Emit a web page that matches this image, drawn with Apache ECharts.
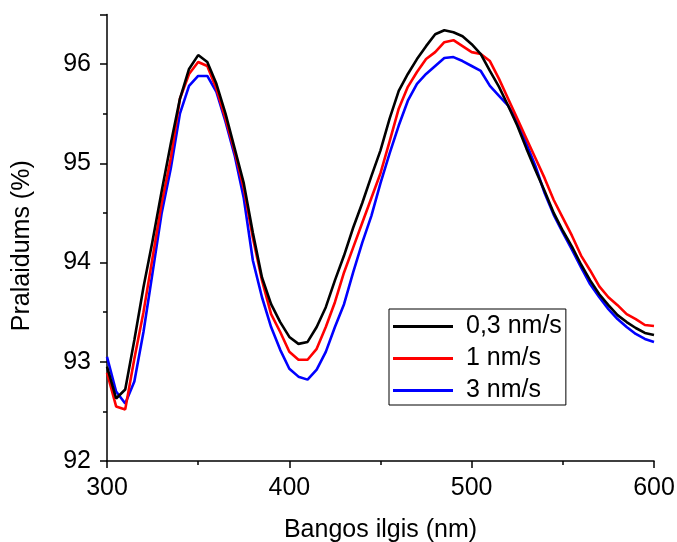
<!DOCTYPE html>
<html>
<head>
<meta charset="utf-8">
<script src="https://cdn.jsdelivr.net/npm/echarts@6/dist/echarts.min.js"></script>
<style>html,body{margin:0;padding:0;background:#fff}#c{width:677px;height:542px}</style>
</head>
<body>
<div id="c"></div>
<script>
const wavelength = [300,305,310,315,320,325,330,335,340,345,350,355,360,365,370,375,380,385,390,395,400,405,410,415,420,425,430,435,440,445,450,455,460,465,470,475,480,485,490,495,500,505,510,515,520,525,530,535,540,545,550,555,560,565,570,575,580,585,590,595,600];
const s03 = [92.95,92.63,92.72,93.22,93.75,94.22,94.72,95.2,95.65,95.95,96.09,96.02,95.8,95.5,95.15,94.8,94.3,93.85,93.58,93.4,93.25,93.18,93.2,93.35,93.55,93.82,94.07,94.35,94.6,94.87,95.13,95.45,95.73,95.9,96.05,96.18,96.3,96.34,96.32,96.28,96.2,96.1,95.93,95.77,95.58,95.38,95.15,94.93,94.72,94.5,94.32,94.16,93.98,93.82,93.68,93.57,93.47,93.4,93.34,93.29,93.27];
const s1 = [92.89,92.55,92.52,93.03,93.5,94.05,94.6,95.05,95.65,95.9,96.02,95.98,95.75,95.45,95.12,94.75,94.25,93.82,93.48,93.3,93.1,93.02,93.02,93.13,93.35,93.6,93.9,94.15,94.4,94.65,94.9,95.22,95.55,95.77,95.92,96.05,96.12,96.22,96.24,96.18,96.12,96.1,96.03,95.85,95.65,95.45,95.25,95.05,94.85,94.63,94.45,94.27,94.07,93.92,93.76,93.65,93.57,93.48,93.43,93.37,93.36];
const s3 = [93.05,92.7,92.58,92.8,93.3,93.9,94.5,94.95,95.5,95.78,95.88,95.88,95.72,95.42,95.08,94.65,94.02,93.65,93.35,93.12,92.93,92.85,92.82,92.92,93.1,93.35,93.58,93.9,94.2,94.47,94.8,95.1,95.38,95.63,95.8,95.9,95.98,96.06,96.07,96.03,95.98,95.93,95.78,95.68,95.58,95.42,95.2,94.97,94.7,94.48,94.3,94.13,93.95,93.78,93.65,93.53,93.43,93.35,93.28,93.23,93.2];
const seriesNames = ['0,3 nm/s','1 nm/s','3 nm/s'];
const seriesColors = ['#000000','#ff0000','#0000ff'];
const seriesValues = [s03, s1, s3];

const font = 'Liberation Sans, Arial, sans-serif';
const chart = echarts.init(document.getElementById('c'));
chart.setOption({
  animation: false,
  backgroundColor: '#fff',
  grid: {left: 107, right: 23, top: 14.4, bottom: 81, containLabel: false, outerBoundsMode: 'none'},
  xAxis: {
    type: 'value', min: 300, max: 600, interval: 100,
    name: 'Bangos ilgis (nm)', nameLocation: 'middle', nameGap: 57,
    nameTextStyle: {fontFamily: font, fontSize: 25, color: '#000'},
    axisLine: {show: true, lineStyle: {color: '#000', width: 1.5}},
    axisTick: {show: true, inside: false, length: 7, lineStyle: {color: '#000', width: 1.5}},
    minorTick: {show: true, splitNumber: 2, length: 4, lineStyle: {color: '#000', width: 1.5}},
    axisLabel: {fontFamily: font, fontSize: 25, color: '#000', margin: 15},
    splitLine: {show: false}
  },
  yAxis: {
    type: 'value', min: 92, max: 96.5, interval: 1,
    name: 'Pralaidums (%)', nameLocation: 'middle', nameGap: 72,
    nameTextStyle: {fontFamily: font, fontSize: 25, color: '#000', padding: [0, 16, 0, 0]},
    axisLine: {show: true, lineStyle: {color: '#000', width: 1.5}},
    axisTick: {show: true, inside: false, length: 7, lineStyle: {color: '#000', width: 1.5}},
    minorTick: {show: true, splitNumber: 2, length: 4, lineStyle: {color: '#000', width: 1.5}},
    axisLabel: {fontFamily: font, fontSize: 25, color: '#000', margin: 16, showMaxLabel: false},
    splitLine: {show: false}
  },
  legend: {
    orient: 'vertical', left: 389, top: 309,
    padding: [5, 4, 2, 4],
    borderColor: '#000', borderWidth: 1,
    itemWidth: 60, itemHeight: 3, itemGap: 7,
    icon: 'rect',
    textStyle: {fontFamily: font, fontSize: 25, color: '#000', padding: [0, 0, 0, 8]},
    data: seriesNames
  },
  series: seriesValues.map((vals, i) => ({
    name: seriesNames[i],
    type: 'line',
    symbol: 'none',
    data: wavelength.map((w, j) => [w, vals[j]]),
    lineStyle: {color: seriesColors[i], width: 2.6},
    itemStyle: {color: seriesColors[i]},
    z: 3 - i
  }))
});
</script>
</body>
</html>
